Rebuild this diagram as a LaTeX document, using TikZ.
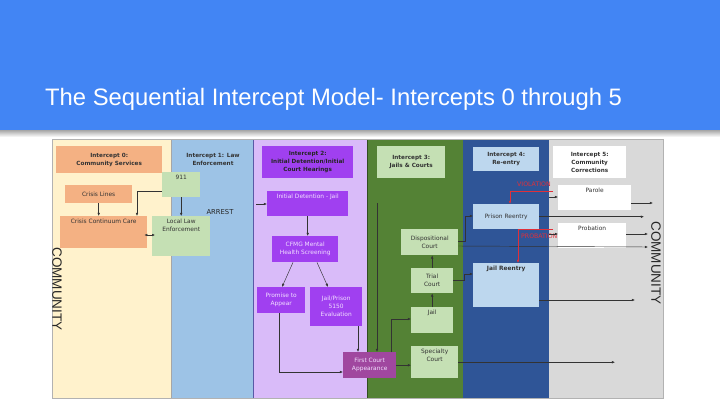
\documentclass[tikz,border=0pt]{standalone}
\usepackage{fontspec}
\setmainfont{DejaVu Sans}
\newfontfamily\titlefont{Liberation Sans}
\usetikzlibrary{arrows.meta,calc}
\definecolor{hdr}{HTML}{4285F4}
\definecolor{czero}{HTML}{FFF2CC}
\definecolor{cone}{HTML}{9DC3E6}
\definecolor{ctwo}{HTML}{D9BBF9}
\definecolor{cthree}{HTML}{548235}
\definecolor{cfour}{HTML}{2F5597}
\definecolor{cfive}{HTML}{D9D9D9}
\definecolor{orangebox}{HTML}{F4B183}
\definecolor{greenbox}{HTML}{C5E0B4}
\definecolor{purplebox}{HTML}{A040F0}
\definecolor{magbox}{HTML}{A0479F}
\definecolor{bluebox}{HTML}{BDD7EE}
\definecolor{redtxt}{HTML}{E0303A}
\definecolor{lighttxt}{HTML}{F2E0FF}
\begin{document}
\begin{tikzpicture}[x=1pt,y=-1pt,
  boxtext/.style={font=\fontsize{5.9}{8}\selectfont, text=black!80},
  box/.style={anchor=north west, draw=none, inner sep=1pt, align=center, boxtext},
  toplbl/.style={anchor=north, inner sep=0pt, yshift=-3pt, align=center, boxtext},
  hdrtext/.style={font=\bfseries\fontsize{5.7}{8}\selectfont},
  purp/.style={box, fill=purplebox, text=lighttxt},
  arr/.style={-{Latex[length=3.2pt,width=2.6pt]}, line width=0.45pt, draw=black!80},
  redarr/.style={-{Latex[length=3.2pt,width=2.6pt]}, line width=0.45pt, draw=redtxt},
  redlbl/.style={font=\fontsize{6.2}{7}\selectfont, text=redtxt, anchor=west, inner sep=0pt},
  comm/.style={font=\titlefont\fontsize{13.5}{13.5}\selectfont, text=black!85, rotate=-90}
]
\useasboundingbox (0,0) rectangle (720,405);
\fill[white] (0,0) rectangle (720,405);
% header
\fill[hdr] (0,0) rectangle (720,130);
\shade[top color=black!35, bottom color=white] (0,130) rectangle (720,137);
\node[anchor=base west, text=white, font=\titlefont\fontsize{23.8}{28}\selectfont, inner sep=0pt] (title) at (45,105) {The Sequential Intercept Model- Intercepts 0 through 5};

% columns
\fill[czero] (52,139) rectangle (171,398);
\fill[cone] (171,139) rectangle (253,398);
\fill[ctwo] (253,139) rectangle (367,398);
\fill[cthree] (367,139) rectangle (463,398);
\fill[cfour] (463,139) rectangle (549,398);
\fill[cfive] (549,139) rectangle (663,398);
\draw[gray!70, line width=0.8pt] (171,139) -- (171,398);
\draw[gray!70!blue, line width=0.6pt] (253,139) -- (253,398);
\draw[cthree!60!black, line width=0.6pt] (367,139) -- (367,398);
\draw[gray!60, line width=0.8pt] (52,139) rectangle (663,398);

% Intercept 0
\node[box, hdrtext, fill=orangebox, minimum width=106, minimum height=27] (izero) at (56,146) {Intercept 0:\\Community Services};
\node[box, fill=orangebox, minimum width=67, minimum height=18] (crisis) at (65,185) {Crisis Lines};
\node[box, fill=orangebox, minimum width=87, minimum height=32, label={[toplbl]north:Crisis Continuum Care}] (ccc) at (60,216) {};
\node[comm] (commleft) at (57,289) {COMMUNITY};

% Intercept 1
\node[hdrtext, align=center, text=black!80] (ione) at (213,159) {Intercept 1: Law\\Enforcement};
\node[box, fill=greenbox, minimum width=38, minimum height=25, label={[toplbl]north:911}] (nine) at (162,172) {};
\node[box, fill=greenbox, minimum width=58, minimum height=40, label={[toplbl]north:Local Law\\Enforcement}] (lle) at (152,216) {};
\node[font=\fontsize{6.8}{8}\selectfont, text=black!85] (arrest) at (220,212) {ARREST};

% Intercept 2
\node[box, hdrtext, fill=purplebox, text=black!85, minimum width=91, minimum height=32] (itwo) at (262,146) {Intercept 2:\\Initial Detention/Initial\\Court Hearings};
\node[purp, minimum width=81, minimum height=25, label={[toplbl, text=lighttxt]north:Initial Detention - Jail}] (idj) at (267,191) {};
\node[purp, minimum width=66, minimum height=26] (cfmg) at (272,236) {CFMG Mental\\Health Screening};
\node[purp, minimum width=48, minimum height=26] (pta) at (257,287) {Promise to\\Appear};
\node[purp, minimum width=52, minimum height=39] (jp) at (310,287) {Jail/Prison\\5150\\Evaluation};
\node[box, fill=magbox, text=lighttxt, minimum width=53, minimum height=26] (fca) at (343,352) {First Court\\Appearance};

% Intercept 3
\node[box, hdrtext, fill=greenbox, minimum width=68, minimum height=32] (ithree) at (377,146) {Intercept 3:\\Jails \& Courts};
\node[box, fill=greenbox, minimum width=57, minimum height=26] (dc) at (401,229) {Dispositional\\Court};
\node[box, fill=greenbox, minimum width=42, minimum height=25] (tc) at (411,268) {Trial\\Court};
\node[box, fill=greenbox, minimum width=42, minimum height=26, label={[toplbl]north:Jail}] (jail) at (411,307) {};
\node[box, fill=greenbox, minimum width=47, minimum height=32, label={[toplbl]north:Specialty\\Court}] (sc) at (411,346) {};

% Intercept 4
\node[box, hdrtext, fill=bluebox, minimum width=66, minimum height=24] (ifour) at (473,147) {Intercept 4:\\Re-entry};
\node[box, fill=bluebox, minimum width=66, minimum height=25] (pr) at (473,204) {Prison Reentry};
\node[box, fill=bluebox, minimum width=66, minimum height=44, label={[toplbl]north:\textbf{Jail Reentry}}] (jr) at (473,263) {};
\node[redlbl] (viol) at (517,184) {VIOLATION};
\node[redlbl] (probv) at (521,236) {PROBATION};

% Intercept 5
\node[box, hdrtext, fill=white, minimum width=73, minimum height=32] (ifive) at (553,146) {Intercept 5:\\Community\\Corrections};
\node[box, fill=white, minimum width=73, minimum height=25, label={[toplbl]north:Parole}] (parole) at (558,185) {};
\node[box, fill=white, minimum width=68, minimum height=25, label={[toplbl]north:Probation}] (prob) at (558,223) {};
\node[comm] (commright) at (656,263) {COMMUNITY};

% free ends
\coordinate (arrin) at (256,204);
\coordinate (vtop) at (377,203);
\coordinate (parolein) at (549,197);
\coordinate (probin) at (549,234);
\coordinate (endparole) at (653,203);
\coordinate (endpr) at (644,215);
\coordinate (endprob) at (648,234);
\coordinate (enddc) at (648,247);
\coordinate (endjr) at (635,300);
\coordinate (endsc) at (615,362);
\coordinate (violstart) at (553,191);
\coordinate (probstart) at (553,229);

% connectors intercept 0/1
\draw[arr] (crisis.south) -- (crisis.south |- ccc.north);
\draw[arr] ($(nine.north west)+(0,19)$) -| ($(ccc.north west)+(77,0)$);
\draw[{Latex[length=3pt,width=2.6pt]}-{Latex[length=3pt,width=2.6pt]}, line width=0.45pt, black!80] ($(ccc.north east)+(-3,19)$) -- ($(lle.north west)+(3,19)$);
\draw[arr] (nine.south) -- (nine.south |- lle.north);

% intercept 2
\draw[arr] (arrin) -- (arrin -| idj.west);
\draw[arr] (idj.south) -- (idj.south |- cfmg.north);
\draw[arr] ($(cfmg.south west)+(21,0)$) -- ($(pta.north west)+(25,0)$);
\draw[arr] ($(cfmg.south west)+(45,0)$) -- ($(jp.north west)+(18,0)$);
\draw[arr] ($(pta.south west)+(22,0)$) |- ($(fca.north west)+(0,20)$);
\draw[arr] ($(jp.south west)+(48,0)$) -- ($(fca.north west)+(15,0)$);

% intercept 3
\draw[arr] (vtop) -- (vtop |- fca.north);
\draw[arr] ($(fca.north west)+(48,0)$) |- ($(jail.north west)+(0,12)$);
\draw[arr] (fca.east) -- (fca.east -| sc.west);
\draw[arr] (jail.north) -- (tc.south);
\draw[arr] (tc.north) -- (tc.north |- dc.south);
\draw[arr] (sc.east) -- (sc.east -| endsc);

% intercept 3 -> 4 -> 5
\draw[arr] ($(dc.north east)+(0,12)$) -- ++(7,0) |- ($(pr.north west)+(0,12)$);
\draw[arr] ($(dc.north east)+(0,17)$) -- (enddc);
\draw[arr] (tc.east) -- ++(11,0) |- ($(jr.north west)+(0,11)$);
\draw[arr] (pr.east) -- (pr.east -| endpr);
\draw[arr] ($(jr.north east)+(0,37)$) -- (endjr);
\draw[redarr] (violstart) -| ($(pr.north west)+(37,0)$);
\draw[redarr] (probstart) -| ($(jr.north west)+(45,0)$);

% intercept 5
\draw[arr] (parolein) -- (parolein -| parole.west);
\draw[arr] (probin) -- (probin -| prob.west);
\draw[arr] ($(parole.north east)+(0,18)$) -- (endparole);
\draw[arr] ($(prob.north east)+(0,11)$) -- (endprob);
\end{tikzpicture}
\end{document}
